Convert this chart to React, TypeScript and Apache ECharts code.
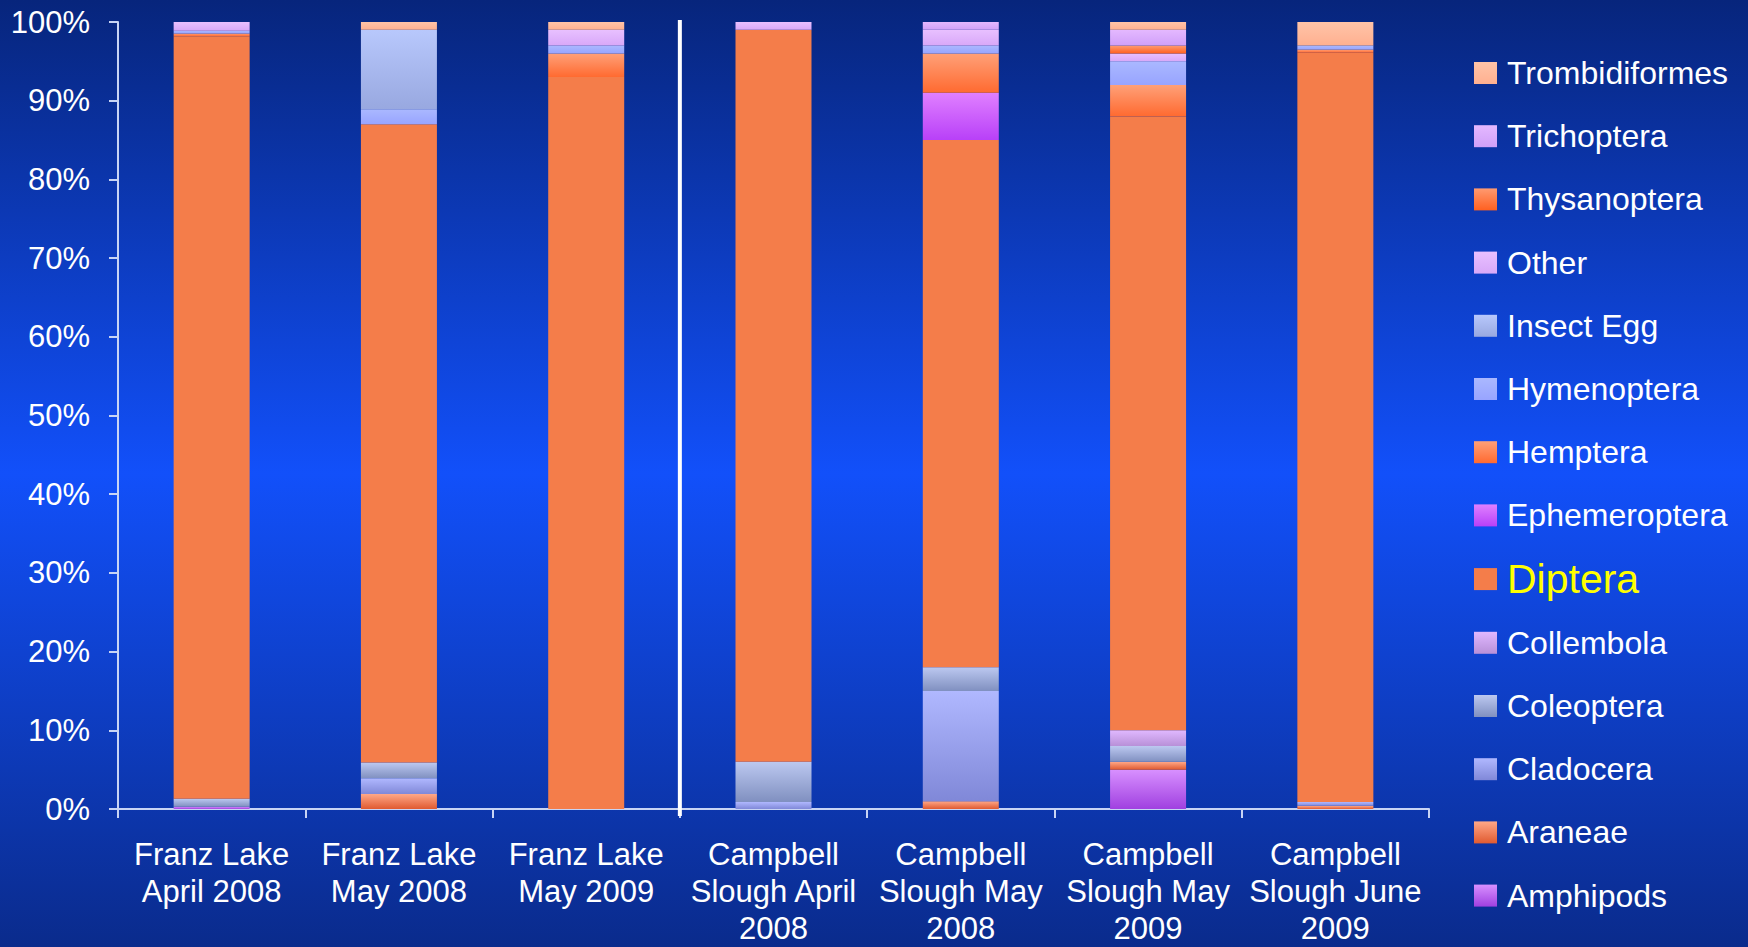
import React, { useEffect, useRef } from "react";
import * as echarts from "echarts";

const categories = [
  "Franz Lake\nApril 2008",
  "Franz Lake\nMay 2008",
  "Franz Lake\nMay 2009",
  "Campbell\nSlough April\n2008",
  "Campbell\nSlough May\n2008",
  "Campbell\nSlough May\n2009",
  "Campbell\nSlough June\n2009",
];

// stacked bottom -> top
const amphipods = [0.3, 0, 0, 0, 0, 5, 0];
const araneae = [0, 1.9, 0, 0, 1, 1, 0.4];
const cladocera = [0, 2, 0, 0.9, 14, 0, 0.5];
const coleoptera = [1, 2, 0, 5.1, 3, 2, 0];
const collembola = [0, 0, 0, 0, 0, 2, 0];
const diptera = [96.9, 81.1, 93, 93, 67, 78, 95.2];
const ephemeroptera = [0, 0, 0, 0, 6, 0, 0];
const hemptera = [0.35, 0, 3, 0, 5, 4, 0.4];
const hymenoptera = [0.35, 1.9, 1, 0, 1, 3, 0.5];
const insectEgg = [0, 10.1, 0, 0, 0, 0, 0];
const other = [1.1, 0, 2, 1, 2, 1, 0];
const thysanoptera = [0, 0, 0, 0, 0, 1, 0];
const trichoptera = [0, 0, 0, 0, 1, 2, 0];
const trombidiformes = [0, 1, 1, 0, 0, 1, 3];

const yTicks = [0, 10, 20, 30, 40, 50, 60, 70, 80, 90, 100];

const seriesDefs: { name: string; data: number[]; top: string; bottom: string }[] = [
  { name: "Amphipods", data: amphipods, top: "#d890ff", bottom: "#a040e0" },
  { name: "Araneae", data: araneae, top: "#ffa888", bottom: "#e05a30" },
  { name: "Cladocera", data: cladocera, top: "#b0b8ff", bottom: "#8088d8" },
  { name: "Coleoptera", data: coleoptera, top: "#bcc8f0", bottom: "#8090c0" },
  { name: "Collembola", data: collembola, top: "#e0b8ff", bottom: "#b890d8" },
  { name: "Diptera", data: diptera, top: "#f47d4a", bottom: "#f47d4a" },
  { name: "Ephemeroptera", data: ephemeroptera, top: "#e080ff", bottom: "#b840f8" },
  { name: "Hemptera", data: hemptera, top: "#ffa078", bottom: "#ff6a30" },
  { name: "Hymenoptera", data: hymenoptera, top: "#aab8ff", bottom: "#98a4ff" },
  { name: "Insect Egg", data: insectEgg, top: "#b8c8fc", bottom: "#98a8e0" },
  { name: "Other", data: other, top: "#e8c0ff", bottom: "#d8a8f8" },
  { name: "Thysanoptera", data: thysanoptera, top: "#ff9a70", bottom: "#ff6020" },
  { name: "Trichoptera", data: trichoptera, top: "#e4b8ff", bottom: "#d0a0f8" },
  { name: "Trombidiformes", data: trombidiformes, top: "#ffc4a8", bottom: "#ffb090" },
];

const FONT = "'Liberation Sans', Arial, sans-serif";

export default function App() {
  const ref = useRef<HTMLDivElement>(null);
  useEffect(() => {
    document.body.style.margin = "0";
    const chart = echarts.init(ref.current!, null, { renderer: "svg" });
    const series = seriesDefs.map((s) => ({
      name: s.name,
      type: "bar",
      stack: "total",
      barWidth: 76,
      data: s.data,
      itemStyle: {
        color:
          s.top === s.bottom
            ? s.top
            : new echarts.graphic.LinearGradient(0, 0, 0, 1, [
                { offset: 0, color: s.top },
                { offset: 1, color: s.bottom },
              ]),
      },
    }));
    chart.setOption({
      animation: false,
      backgroundColor: new echarts.graphic.LinearGradient(0, 0, 0, 1, [
        { offset: 0, color: "#07257c" },
        { offset: 0.5, color: "#1250fa" },
        { offset: 1, color: "#0a2b8c" },
      ]),
      grid: { left: 118, right: 319, top: 22, bottom: 130 },
      legend: {
        orient: "vertical",
        left: 1469,
        top: 48,
        itemWidth: 23,
        itemHeight: 22,
        itemGap: 23.2,
        icon: "rect",
        selectedMode: false,
        data: seriesDefs.map((s) => s.name).reverse(),
        formatter: (name: string) => (name === "Diptera" ? `{d|${name}}` : name),
        textStyle: {
          color: "#ffffff",
          fontSize: 32,
          fontFamily: FONT,
          lineHeight: 40,
          padding: [0, 0, 0, 5],
          rich: {
            d: { color: "#ffff00", fontSize: 41, fontFamily: FONT, lineHeight: 40 },
          },
        },
      },
      xAxis: {
        type: "category",
        data: categories,
        axisLine: { show: true, lineStyle: { color: "#c8d4f4", width: 2 } },
        axisTick: { show: true, length: 9, lineStyle: { color: "#c8d4f4", width: 2 } },
        axisLabel: {
          color: "#ffffff",
          fontSize: 31,
          fontFamily: FONT,
          lineHeight: 37,
          margin: 27,
          interval: 0,
        },
      },
      yAxis: {
        type: "value",
        min: yTicks[0],
        max: yTicks[yTicks.length - 1],
        interval: 10,
        axisLine: { show: true, lineStyle: { color: "#c8d4f4", width: 2 } },
        axisTick: { show: true, length: 9, lineStyle: { color: "#c8d4f4", width: 2 } },
        splitLine: { show: false },
        axisLabel: {
          color: "#ffffff",
          fontSize: 31,
          fontFamily: FONT,
          margin: 28,
          formatter: "{value}%",
        },
      },
      series,
    });
    const x2 = chart.convertToPixel({ xAxisIndex: 0 }, 2) as number;
    const x3 = chart.convertToPixel({ xAxisIndex: 0 }, 3) as number;
    const yTop = chart.convertToPixel({ yAxisIndex: 0 }, 100) as number;
    const yBot = chart.convertToPixel({ yAxisIndex: 0 }, 0) as number;
    const sx = (x2 + x3) / 2;
    chart.setOption({
      graphic: [
        {
          type: "line",
          shape: { x1: sx, y1: yTop - 2, x2: sx, y2: yBot + 7 },
          style: { stroke: "#ffffff", lineWidth: 4 },
          z: 100,
        },
      ],
    });
    return () => chart.dispose();
  }, []);
  return (
    <div
      ref={ref}
      style={{ position: "absolute", left: 0, top: 0, width: 1748, height: 947 }}
    />
  );
}
